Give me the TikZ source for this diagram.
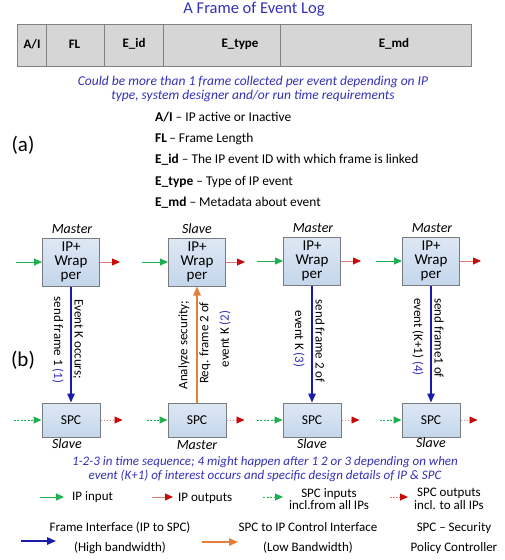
\documentclass[tikz,border=0pt]{standalone}
\usepackage{fontspec}
\setmainfont{Carlito}
\usetikzlibrary{arrows.meta}
\definecolor{txtblue}{RGB}{52,48,182}
\definecolor{ifblue}{RGB}{28,26,170}
\definecolor{ctlorange}{RGB}{226,128,58}
\definecolor{ingreen}{RGB}{30,176,80}
\definecolor{outred}{RGB}{200,10,10}
\definecolor{outredlight}{RGB}{230,120,120}
\definecolor{boxtop}{RGB}{222,232,244}
\definecolor{boxbot}{RGB}{196,214,236}
\definecolor{boxedge}{RGB}{120,124,128}
\definecolor{cellfill}{RGB}{214,214,214}
\definecolor{celledge}{RGB}{130,130,130}
\newcommand{\fs}[2]{\fontsize{#1}{#2}\selectfont}
\begin{document}
\begin{tikzpicture}[x=1pt,y=-1pt,
  cell/.style={draw=celledge, fill=cellfill, line width=0.9pt, minimum height=42pt, inner sep=0pt, anchor=north west},
  celltxt/.style={font=\fs{13}{13}\bfseries, inner sep=0pt},
  note/.style={font=\itshape, text=txtblue, align=center, inner sep=0pt},
  defn/.style={font=\fs{13.4}{14}, anchor=west, inner sep=0pt},
  ipbox/.style={draw=boxedge, line width=1pt, top color=boxtop, bottom color=boxbot,
    minimum width=57pt, minimum height=48pt, inner sep=0pt, align=center, font=\fs{15}{14}},
  spcbox/.style={draw=boxedge, line width=1pt, top color=boxtop, bottom color=boxbot,
    minimum width=58pt, minimum height=34pt, inner sep=0pt, font=\fs{13.5}{14}},
  role/.style={font=\fs{14}{14}\itshape, inner sep=0pt},
  vlab/.style={font=\fs{13}{13}, inner sep=0pt},
  inarrow/.style={draw=ingreen, line width=1pt, -{Triangle[length=8pt,width=7pt]}},
  outarrow/.style={draw=outredlight, line width=0.8pt, -{Triangle[length=8pt,width=7pt,color=outred]}},
  spcin/.style={inarrow, dash pattern=on 2pt off 1.5pt},
  spcout/.style={outarrow, dash pattern=on 1.5pt off 1.5pt},
  frameif/.style={draw=ifblue, line width=1.5pt, -{Triangle[length=9pt,width=7.5pt]}},
  ctlif/.style={draw=ctlorange, line width=1.5pt, -{Triangle[length=9pt,width=7.5pt]}},
  lgd/.style={font=\fs{13}{12.5}, inner sep=0pt, align=center},
  lgdwide/.style={font=\fs{13}{20}, inner sep=0pt, align=center},
]
\useasboundingbox (0,0) rectangle (504,560);

% ---- frame layout ----
\node[font=\fs{16.5}{17}, text=txtblue, inner sep=0pt] (title) at (254,9) {A Frame of Event Log};
\node[cell, minimum width=29pt] (cAI) at (17,24) {};
\node[cell, minimum width=58pt] (cFL) at (46,24) {};
\node[cell, minimum width=59pt] (cID) at (104,24) {};
\node[cell, minimum width=117pt] (cTY) at (163,24) {};
\node[cell, minimum width=191pt] (cMD) at (280,24) {};
\node[celltxt] (lAI) at (32,44) {A/I};
\node[celltxt] (lFL) at (74.5,44) {FL};
\node[celltxt] (lID) at (134,44) {E\_id};
\node[celltxt] (lTY) at (240,44) {E\_type};
\node[celltxt] (lMD) at (394,44) {E\_md};

\node[note, font=\fs{13.5}{14}\itshape] (note1) at (253,89) {Could be more than 1 frame collected per event depending on IP\\type, system designer and/or run time requirements};

\node[font=\fs{21}{21}, inner sep=0pt] (parta) at (23,145) {(a)};
\node[defn] (dAI) at (155,117) {\textbf{A/I} -- IP active or Inactive};
\node[defn] (dFL) at (155,138.5) {\textbf{FL}\,-- Frame Length};
\node[defn] (dID) at (155,160) {\textbf{E\_id} -- The IP event ID with which frame is linked};
\node[defn] (dTY) at (155,181.5) {\textbf{E\_type} -- Type of IP event};
\node[defn] (dMD) at (155,203) {\textbf{E\_md} -- Metadata about event};

% ---- event sequence ----
\node[font=\fs{21}{21}, inner sep=0pt] (partb) at (23,360) {(b)};

\node[ipbox] (ip1) at (71,262) {IP+\\Wrap\\per};
\node[ipbox] (ip2) at (197,262) {IP+\\Wrap\\per};
\node[ipbox] (ip3) at (312,261) {IP+\\Wrap\\per};
\node[ipbox] (ip4) at (431,261) {IP+\\Wrap\\per};

\node[role] (r1) at (72,229) {Master};
\node[role] (r2) at (197,229) {Slave};
\node[role] (r3) at (313,228) {Master};
\node[role] (r4) at (432,228) {Master};

\node[spcbox] (spc1) at (71,420) {SPC};
\node[spcbox] (spc2) at (197,420) {SPC};
\node[spcbox] (spc3) at (312,420) {SPC};
\node[spcbox] (spc4) at (431,420) {SPC};

\node[role] (s1) at (67,444) {Slave};
\node[role] (s2) at (197,445) {Master};
\node[role] (s3) at (312,444) {Slave};
\node[role] (s4) at (431,443) {Slave};

% IP inputs and outputs
\foreach \i/\l/\r in {1/26/20, 2/26/19, 3/26/20, 4/26/21}{
  \draw[inarrow] ([xshift=-\l pt]ip\i.west) -- (ip\i.west);
  \draw[outarrow] (ip\i.east) -- ([xshift=\r pt]ip\i.east);
}
% SPC inputs and outputs
\foreach \i/\l/\r in {1/28/22, 2/21/18, 3/26/18, 4/22/17}{
  \draw[spcin] ([xshift=-\l pt]spc\i.west) -- (spc\i.west);
  \draw[spcout] (spc\i.east) -- ([xshift=\r pt]spc\i.east);
}

% frame and control interfaces
\draw[frameif] (ip1.south) -- (spc1.north);
\draw[ctlif] (spc2.north) -- (ip2.south);
\draw[frameif] (ip3.south) -- (spc3.north);
\draw[frameif] (ip4.south) -- (spc4.north);

\node[vlab, rotate=-90] (t1a) at (78,339) {Event K occurs;};
\node[vlab, rotate=-90] (t1b) at (58,340) {send frame 1 \textcolor{txtblue}{(1)}};
\node[vlab, rotate=90] (t2a) at (184,345) {Analyze security;};
\node[vlab, rotate=90] (t2b) at (205,343) {Req. frame 2 of};
\node[vlab, rotate=90] (t2c) at (225,339) {event K \textcolor{txtblue}{(2)}};
\node[vlab, rotate=-90] (t3a) at (320,341) {send frame 2 of};
\node[vlab, rotate=-90] (t3b) at (299,339) {event K \textcolor{txtblue}{(3)}};
\node[vlab, rotate=-90] (t4a) at (439,338) {send frame1 of};
\node[vlab, rotate=-90] (t4b) at (418,337) {event (K+1) \textcolor{txtblue}{(4)}};

\node[note, font=\fs{13}{14}\itshape] (note2) at (265,469) {1-2-3 in time sequence; 4 might happen after 1 2 or 3 depending on when\\event (K+1) of interest occurs and specific design details of IP \& SPC};

% ---- legend ----
\coordinate (g1a) at (40,497);  \coordinate (g1b) at (64,497);
\draw[inarrow] (g1a) -- (g1b);
\node[lgd, anchor=west] (g1t) at (72,497) {IP input};
\coordinate (g2a) at (152,497); \coordinate (g2b) at (173,497);
\draw[outarrow] (g2a) -- (g2b);
\node[lgd, anchor=west] (g2t) at (178,498) {IP outputs};
\coordinate (g3a) at (263,497); \coordinate (g3b) at (283,497);
\draw[spcin] (g3a) -- (g3b);
\node[lgd] (g3t) at (329,499) {SPC inputs\\incl.from all IPs};
\coordinate (g4a) at (390,497); \coordinate (g4b) at (408,497);
\draw[spcout] (g4a) -- (g4b);
\node[lgd] (g4t) at (449,499) {SPC outputs\\incl. to all IPs};

\coordinate (g5a) at (21,541); \coordinate (g5b) at (56,541);
\draw[frameif] (g5a) -- (g5b);
\node[lgdwide] (g5t) at (120,538) {Frame Interface (IP to SPC)\\(High bandwidth)};
\coordinate (g6a) at (202,542); \coordinate (g6b) at (238,542);
\draw[ctlif] (g6a) -- (g6b);
\node[lgdwide] (g6t) at (308,538) {SPC to IP Control Interface\\(Low Bandwidth)};
\node[lgdwide] (g7t) at (454,538) {SPC -- Security\\Policy Controller};
\end{tikzpicture}
\end{document}
